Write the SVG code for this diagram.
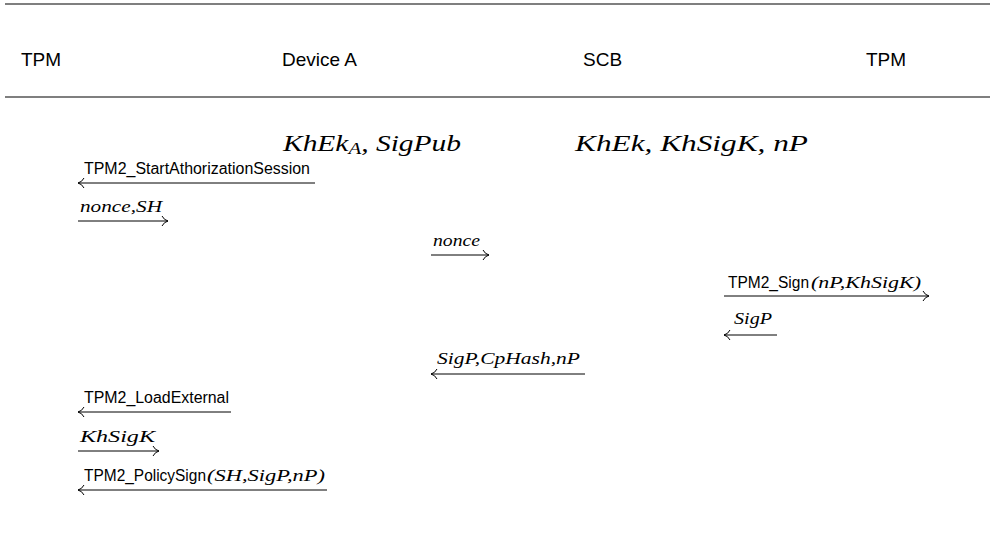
<svg xmlns="http://www.w3.org/2000/svg" width="990" height="536" viewBox="0 0 990 536">
  <style>
    .rule { stroke: #000; stroke-width: 1.2; }
    .head { font-family: "Liberation Sans", Arial, sans-serif; font-size: 19px; fill: #000; }
    .math { font-family: "Liberation Serif", "Times New Roman", serif; font-style: italic; font-size: 24px; fill: #000; }
    .lbl { font-family: "Liberation Sans", Arial, sans-serif; font-size: 16px; fill: #000; }
    .lm { font-family: "Liberation Serif", "Times New Roman", serif; font-style: italic; font-size: 17px; fill: #000; }
    .msg { stroke: #000; stroke-width: 1; fill: none; }
    .fwd { marker-end: url(#hook); }
    .back { marker-start: url(#hookL); }
  </style>
  <defs>
    <marker id="hook" markerWidth="10" markerHeight="12" refX="9" refY="6" orient="auto" markerUnits="userSpaceOnUse">
      <path d="M3,1 Q5,5 9,6 Q5,7 3,11" fill="none" stroke="#000" stroke-width="1"/>
    </marker>
    <marker id="hookL" markerWidth="10" markerHeight="12" refX="1" refY="6" orient="auto" markerUnits="userSpaceOnUse">
      <path d="M7,1 Q5,5 1,6 Q5,7 7,11" fill="none" stroke="#000" stroke-width="1"/>
    </marker>
  </defs>

  <!-- header table -->
  <g id="header">
    <line class="rule" x1="5" y1="4" x2="990" y2="4"/>
    <line class="rule" x1="5" y1="97" x2="990" y2="97"/>
    <text class="head" x="21" y="66">TPM</text>
    <text class="head" x="282" y="66">Device A</text>
    <text class="head" x="583" y="66">SCB</text>
    <text class="head" x="866" y="66">TPM</text>
  </g>

  <!-- initial knowledge -->
  <g id="device-keys">
    <text class="math" x="283" y="151" textLength="178" lengthAdjust="spacingAndGlyphs">KhEk<tspan font-size="17" dy="3">A</tspan><tspan dy="-3">, SigPub</tspan></text>
  </g>
  <g id="scb-keys">
    <text class="math" x="575" y="151" textLength="233" lengthAdjust="spacingAndGlyphs">KhEk, KhSigK, nP</text>
  </g>

  <!-- messages -->
  <g id="connectors">
    <line class="msg back" x1="78" y1="183" x2="315" y2="183"/>
    <line class="msg fwd" x1="78" y1="221" x2="168" y2="221"/>
    <line class="msg fwd" x1="431" y1="255" x2="489" y2="255"/>
    <line class="msg fwd" x1="724" y1="296" x2="929" y2="296"/>
    <line class="msg back" x1="724" y1="335" x2="777" y2="335"/>
    <line class="msg back" x1="431" y1="374" x2="585" y2="374"/>
    <line class="msg back" x1="78" y1="412" x2="231" y2="412"/>
    <line class="msg fwd" x1="78" y1="451" x2="159" y2="451"/>
    <line class="msg back" x1="78" y1="490" x2="327" y2="490"/>
  </g>

  <g id="labels">
    <text class="lbl" x="84" y="174" textLength="226" lengthAdjust="spacingAndGlyphs">TPM2_StartAthorizationSession</text>
    <text class="lm" x="80" y="212" textLength="82" lengthAdjust="spacingAndGlyphs">nonce,SH</text>
    <text class="lm" x="433" y="246" textLength="47" lengthAdjust="spacingAndGlyphs">nonce</text>
    <text class="lbl" x="728" y="288" textLength="81" lengthAdjust="spacingAndGlyphs">TPM2_Sign</text>
    <text class="lm" x="811" y="288" textLength="110" lengthAdjust="spacingAndGlyphs">(nP,KhSigK)</text>
    <text class="lm" x="734" y="324" textLength="38" lengthAdjust="spacingAndGlyphs">SigP</text>
    <text class="lm" x="437" y="364" textLength="143" lengthAdjust="spacingAndGlyphs">SigP,CpHash,nP</text>
    <text class="lbl" x="84" y="403" textLength="145" lengthAdjust="spacingAndGlyphs">TPM2_LoadExternal</text>
    <text class="lm" x="80" y="442" textLength="75" lengthAdjust="spacingAndGlyphs">KhSigK</text>
    <text class="lbl" x="84" y="481" textLength="122" lengthAdjust="spacingAndGlyphs">TPM2_PolicySign</text>
    <text class="lm" x="207" y="481" textLength="118" lengthAdjust="spacingAndGlyphs">(SH,SigP,nP)</text>
  </g>
</svg>
